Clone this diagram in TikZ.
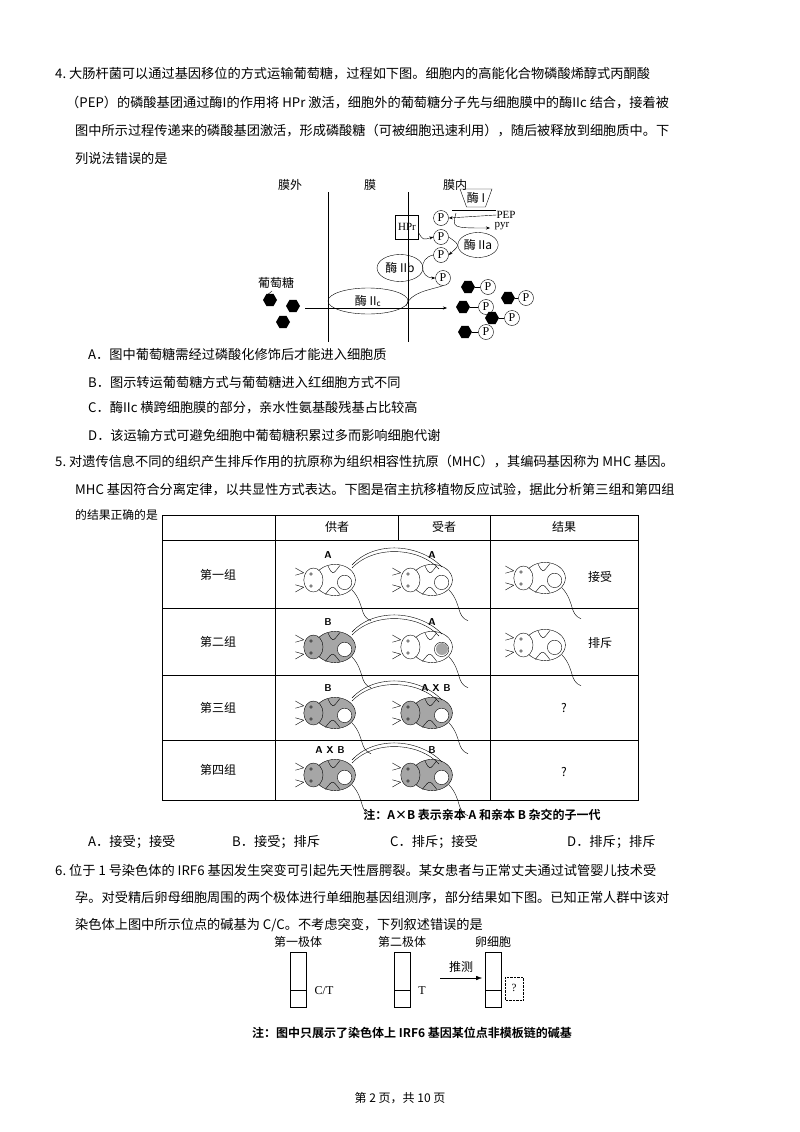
\documentclass[tikz,border=0pt]{standalone}
\usepackage{fontspec}
\setmainfont{Liberation Serif}
\newfontfamily\cjk{Noto Sans CJK SC}
\newfontfamily\cjkb{Noto Sans CJK SC}[BoldFont={* Bold}]
\usetikzlibrary{shapes.geometric,arrows.meta}
\tikzset{
 txt/.style={anchor=west,inner sep=0pt,font=\cjk\fontsize{13.2}{15}\selectfont},
 small/.style={inner sep=0pt,font=\cjk\fontsize{12}{14}\selectfont},
 pc/.style={circle,draw,inner sep=0pt,minimum size=15pt,font=\fontsize{12}{12}\selectfont},
 hexa/.style={regular polygon,regular polygon sides=6,fill=black,inner sep=0pt,minimum size=14pt},
 arr/.style={-{Stealth[length=4pt]},thin},
 mouse/.pic={
  \draw[fill=\mfill] (0,0) ellipse (17 and 13);
  \draw[fill=\mfill] (-18,0) ellipse (8 and 10);
  \draw[fill=white] (8,2) circle (6);
  \draw (-20,-5) circle (1.2) (-20,5) circle (1.2);
  \draw (-26,-6)--(-33,-10) (-26,-6)--(-33,-4) (-26,6)--(-33,10) (-26,6)--(-33,4);
  \draw (-6,-12) .. controls (-2,-4) .. (4,-12) (-8,12) .. controls (-2,4) .. (4,12);
  \draw (14,8) .. controls (25,20) and (20,30) .. (30,34);
 }
}
\begin{document}
\begin{tikzpicture}[x=1pt,y=-1pt]
\useasboundingbox (0,0) rectangle (800,1132);
\fill[white] (0,0) rectangle (800,1132);
% Q4 text
\node[txt] (t1) at (55,74) {4.\ 大肠杆菌可以通过基因移位的方式运输葡萄糖，过程如下图。细胞内的高能化合物磷酸烯醇式丙酮酸};
\node[txt] (t2) at (66,103) {（PEP）的磷酸基团通过酶I的作用将 HPr 激活，细胞外的葡萄糖分子先与细胞膜中的酶IIc 结合，接着被};
\node[txt] (t3) at (75,131) {图中所示过程传递来的磷酸基团激活，形成磷酸糖（可被细胞迅速利用），随后被释放到细胞质中。下};
\node[txt] (t4) at (75,158) {列说法错误的是};
% diagram 1
\node[small] (lo) at (290,185) {膜外};
\node[small] (lm) at (370,185) {膜};
\node[small] (li) at (455,185) {膜内};
\draw (328,192)--(328,342);
\draw (408,192)--(408,342);
\draw[arr] (305,308)--(447,308);
\node[ellipse,draw,minimum width=80pt,minimum height=26pt,inner sep=0pt,font=\cjk\fontsize{12}{12}\selectfont] (e2c) at (368,301) {酶 II\textsubscript{c}};
\node[draw,minimum width=23pt,minimum height=24pt,inner sep=0pt,font=\fontsize{11}{11}\selectfont] (hpr) at (407,227) {HPr};
\node[trapezium,draw,shape border rotate=180,trapezium stretches=true,minimum width=32pt,minimum height=18pt,inner sep=0pt,font=\cjk\fontsize{12}{12}\selectfont] (e1) at (476,198) {酶 I};
\draw (452,210)--(496,210);
\node[pc] (p1) at (441,218) {P};
\node[pc] (p2) at (441,237) {P};
\node[pc] (p3) at (441,255) {P};
\node[pc] (p4) at (443,278) {P};
\node[ellipse,draw,minimum width=40pt,minimum height=25pt,inner sep=0pt,font=\cjk\fontsize{12}{12}\selectfont] (e2a) at (478,245) {酶 IIa};
\node[ellipse,draw,minimum width=46pt,minimum height=27pt,inner sep=0pt,font=\cjk\fontsize{12}{12}\selectfont] (e2b) at (400,268) {酶 IIb};
\node[inner sep=0pt,font=\fontsize{11}{11}\selectfont] (pep) at (506,215) {PEP};
\node[inner sep=0pt,font=\fontsize{11}{11}\selectfont] (pyr) at (502,226) {pyr};
\draw[arr] (pep.west) -- (p1.east);
\draw[arr] (456,213) .. controls (452,228) .. (490,228);
\draw[arr] (hpr.east) ++(0,6) .. controls (423,240) .. (p2.west);
\draw[arr] (p2.east) .. controls (460,245) .. (p3.east);
\draw[arr] (p3.west) .. controls (418,258) and (420,278) .. (p4.west);
\draw (p4.south) .. controls (430,290) and (410,292) .. (406,306);
\node[small] (glu) at (276,283) {葡萄糖};
\draw (272,291)--(266,296);
\node[hexa] (h1) at (270,300) {};
\node[hexa] (h2) at (293,306) {};
\node[hexa] (h3) at (283,322) {};
\foreach \i/\hx/\hy/\px in {a/468/287/488,b/508/298/526,c/463/307/486,d/492/318/512,e/465/332/486}{
 \node[hexa] (g\i) at (\hx,\hy) {};
 \node[pc] (q\i) at (\px,\hy) {P};
 \draw (g\i)--(q\i);
}
% options
\node[txt] (o1) at (88,354) {A．图中葡萄糖需经过磷酸化修饰后才能进入细胞质};
\node[txt] (o2) at (88,382) {B．图示转运葡萄糖方式与葡萄糖进入红细胞方式不同};
\node[txt] (o3) at (88,408) {C．酶IIc 横跨细胞膜的部分，亲水性氨基酸残基占比较高};
\node[txt] (o4) at (88,435) {D．该运输方式可避免细胞中葡萄糖积累过多而影响细胞代谢};
% Q5
\node[txt] (s1) at (55,462) {5.\ 对遗传信息不同的组织产生排斥作用的抗原称为组织相容性抗原（MHC），其编码基因称为 MHC 基因。};
\node[txt] (s2) at (75,490) {MHC 基因符合分离定律，以共显性方式表达。下图是宿主抗移植物反应试验，据此分析第三组和第四组};
\node[txt,font=\cjk\fontsize{11.8}{14}\selectfont] (s3) at (75,515) {的结果正确的是};
% table
\draw (162,515) rectangle (638,800);
\draw (162,540)--(638,540) (162,608)--(638,608) (162,675)--(638,675) (162,740)--(638,740);
\draw (275,515)--(275,800) (490,515)--(490,800) (398,515)--(398,540);
\node[small] (h1t) at (337,527) {供者};
\node[small] (h2t) at (444,527) {受者};
\node[small] (h3t) at (564,527) {结果};
\foreach \n/\y in {第一组/575,第二组/642,第三组/708,第四组/770}{\node[small] at (218,\y) {\n};}
\def\mfill{white}
\pic[scale=1.2] at (335,580) {mouse}; \pic[scale=1.2] at (432,580) {mouse}; \pic[scale=1.2] at (545,578) {mouse};
\def\mfill{gray!70}
\pic[scale=1.2] at (335,647) {mouse}; \pic[scale=1.2] at (335,713) {mouse}; \pic[scale=1.2] at (335,775) {mouse}; \pic[scale=1.2] at (432,775) {mouse}; \pic[scale=1.2] at (432,713) {mouse};
\def\mfill{white}
\pic[scale=1.2] at (432,647) {mouse}; \pic[scale=1.2] at (545,645) {mouse};
\fill[gray!70] (442,649) circle (6);
\foreach \y in {580,647,713,775}{\draw (352,\y-15) .. controls (375,\y-40) and (420,\y-36) .. (442,\y-13); \draw (352,\y-12) .. controls (375,\y-36) and (420,\y-32) .. (439,\y-11);}
\tikzset{lab/.style={inner sep=0pt,font=\sffamily\bfseries\fontsize{10}{11}\selectfont}}
\node[lab] at (328,555) {A}; \node[lab] at (432,555) {A};
\node[lab] at (328,622) {B}; \node[lab] at (432,622) {A};
\node[lab] at (328,688) {B}; \node[lab] at (436,688) {A X B};
\node[lab] at (330,750) {A X B}; \node[lab] at (432,750) {B};
\node[small] at (600,577) {接受};
\node[small] at (600,643) {排斥};
\node[small] at (564,708) {?};
\node[small] at (564,772) {?};
\node[inner sep=0pt,font=\cjkb\bfseries\fontsize{12}{14}\selectfont] (n1) at (482,815) {注：A×B 表示亲本 A 和亲本 B 杂交的子一代};
\node[txt] at (88,842) {A．接受；接受};
\node[txt] at (232,842) {B．接受；排斥};
\node[txt] at (390,842) {C．排斥；接受};
\node[txt] at (567,842) {D．排斥；排斥};
% Q6
\node[txt] (u1) at (55,870) {6.\ 位于 1 号染色体的 IRF6 基因发生突变可引起先天性唇腭裂。某女患者与正常丈夫通过试管婴儿技术受};
\node[txt] (u2) at (75,898) {孕。对受精后卵母细胞周围的两个极体进行单细胞基因组测序，部分结果如下图。已知正常人群中该对};
\node[txt] (u3) at (75,925) {染色体上图中所示位点的碱基为 C/C。不考虑突变，下列叙述错误的是};
\node[small] at (298,942) {第一极体};
\node[small] at (402,942) {第二极体};
\node[small] at (493,942) {卵细胞};
\foreach \x in {290,394,485}{\draw (\x,952) rectangle (\x+16,1007); \draw (\x,990)--(\x+16,990);}
\node[inner sep=0pt,font=\fontsize{12}{12}\selectfont] at (324,991) {C/T};
\node[inner sep=0pt,font=\fontsize{12}{12}\selectfont] at (422,991) {T};
\coordinate (as) at (440,978); \coordinate (ae) at (482,978);
\draw[-{Latex[length=6pt]}] (as)--(ae);
\node[small] at (461,967) {推测};
\draw[densely dotted] (505,977) rectangle (523,1000);
\node[inner sep=0pt,font=\fontsize{11}{11}\selectfont] at (514,988) {?};
\node[inner sep=0pt,font=\cjkb\bfseries\fontsize{12}{14}\selectfont] at (412,1033) {注：图中只展示了染色体上 IRF6 基因某位点非模板链的碱基};
\node[small] at (400,1098) {第 2 页，共 10 页};
\end{tikzpicture}
\end{document}
